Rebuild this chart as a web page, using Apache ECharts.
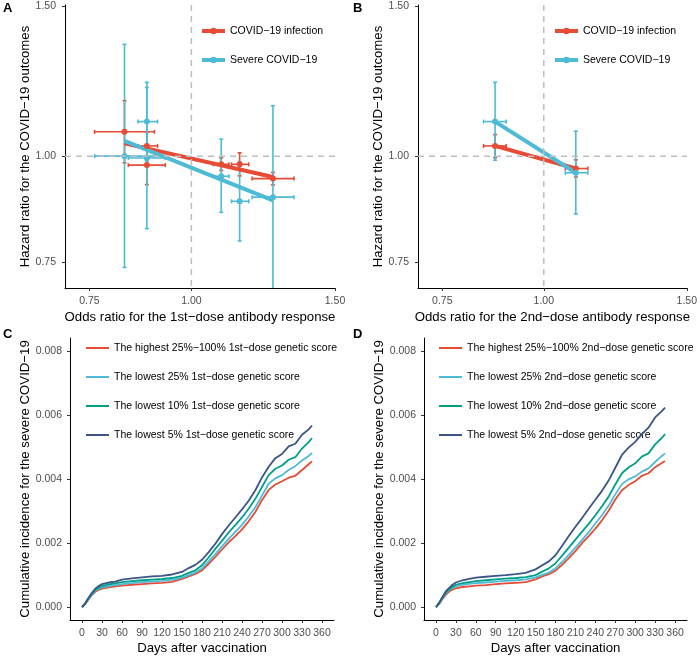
<!DOCTYPE html>
<html>
<head>
<meta charset="utf-8">
<script src="https://cdn.jsdelivr.net/npm/echarts@6/dist/echarts.min.js"></script>
<style>
html,body{margin:0;padding:0;background:#fff;}
#chart{width:700px;height:660px;}
</style>
</head>
<body>
<div id="chart"></div>
<script>
// ---------- Data ----------
const hrTicks = [0.75, 1.00, 1.50];
const dayTicks = [0, 30, 60, 90, 120, 150, 180, 210, 240, 270, 300, 330, 360];
const incTicks = [0, 0.002, 0.004, 0.006, 0.008];

// Panel A (1st-dose): instrument odds ratios with 95% CI
const snpA_or   = [0.828, 0.882, 0.882, 1.088, 1.146, 1.259];
const snpA_orLo = [0.761, 0.860, 0.837, 1.064, 1.120, 1.187];
const snpA_orHi = [0.901, 0.909, 0.929, 1.112, 1.176, 1.336];
const infA_hr = [1.068, 1.028, 0.976, 0.978, 0.978, 0.941];
const infA_lo = [0.982, 0.990, 0.926, 0.962, 0.948, 0.925];
const infA_hi = [1.162, 1.068, 1.030, 0.995, 1.009, 0.957];
const sevA_hr = [1.000, 1.098, 0.995, 0.947, 0.885, 0.895];
const sevA_lo = [0.740, 0.987, 0.822, 0.859, 0.795, 0.690];
const sevA_hi = [1.353, 1.221, 1.204, 1.047, 0.985, 1.146];
const fitA_or = [0.828, 1.259];
const fitA_inf = [1.035, 0.945];
const fitA_sev = [1.042, 0.887];

// Panel B (2nd-dose)
const snpB_or   = [0.871, 1.095];
const snpB_orLo = [0.843, 1.063];
const snpB_orHi = [0.899, 1.133];
const infB_hr = [1.028, 0.967];
const infB_lo = [0.996, 0.945];
const infB_hi = [1.060, 0.990];
const sevB_hr = [1.098, 0.956];
const sevB_lo = [0.989, 0.855];
const sevB_hi = [1.221, 1.070];
const fitB_or = [0.871, 1.095];
const fitB_inf = [1.028, 0.967];
const fitB_sev = [1.098, 0.956];

// Panels C & D: cumulative incidence curves
const days = [0,5,10,15,20,25,30,40,50,60,75,90,105,120,135,150,160,170,180,190,200,210,220,230,240,250,260,270,280,290,300,310,320,330,340,345];
const C_high = [0,0.0001,0.00025,0.00038,0.00048,0.00054,0.00058,0.00062,0.00065,0.00067,0.0007,0.00072,0.00074,0.00076,0.00079,0.00088,0.00096,0.00104,0.00115,0.00135,0.00157,0.0018,0.00202,0.00222,0.00243,0.00268,0.00297,0.00334,0.00366,0.00383,0.00393,0.00404,0.0041,0.00428,0.00446,0.00455];
const C_low25 = [0,0.00011,0.00026,0.0004,0.00051,0.00057,0.00062,0.00066,0.00069,0.00072,0.00075,0.00078,0.0008,0.00082,0.00085,0.00092,0.001,0.00108,0.00121,0.00143,0.00166,0.0019,0.00213,0.00235,0.00257,0.00283,0.00312,0.00348,0.00385,0.00402,0.00412,0.00428,0.0044,0.00458,0.00472,0.00481];
const C_low10 = [0,0.00012,0.00028,0.00042,0.00054,0.00061,0.00066,0.00071,0.00074,0.00078,0.00081,0.00084,0.00086,0.00088,0.00091,0.00098,0.00107,0.00115,0.00131,0.00155,0.00182,0.00207,0.00233,0.00256,0.0028,0.00307,0.00338,0.00375,0.00412,0.00432,0.00442,0.0046,0.00468,0.00495,0.00515,0.00528];
const C_low5 = [0,0.00013,0.0003,0.00045,0.00058,0.00066,0.00072,0.00077,0.0008,0.00086,0.0009,0.00093,0.00096,0.00098,0.00102,0.0011,0.00122,0.00132,0.00148,0.00172,0.00198,0.00228,0.00255,0.0028,0.00305,0.00332,0.00365,0.00405,0.00438,0.00465,0.00478,0.00502,0.0051,0.00538,0.00555,0.00567];
const D_high = [0,0.0001,0.00026,0.00039,0.00049,0.00055,0.00059,0.00063,0.00065,0.00067,0.00069,0.00072,0.00074,0.00076,0.00078,0.00087,0.00096,0.00103,0.00114,0.00132,0.00153,0.00175,0.002,0.00222,0.00245,0.00271,0.00301,0.00336,0.00365,0.00381,0.00393,0.0041,0.00418,0.00437,0.0045,0.00456];
const D_low25 = [0,0.00012,0.00028,0.00043,0.00053,0.0006,0.00065,0.0007,0.00073,0.00075,0.00077,0.0008,0.00082,0.00084,0.00087,0.00093,0.00101,0.00108,0.00121,0.00141,0.00163,0.00186,0.0021,0.00234,0.00261,0.00287,0.00317,0.00352,0.00384,0.00399,0.00408,0.00423,0.00433,0.00453,0.00472,0.0048];
const D_low10 = [0,0.00013,0.0003,0.00046,0.00056,0.00064,0.0007,0.00075,0.00078,0.00081,0.00084,0.00087,0.00089,0.00091,0.00094,0.001,0.00111,0.00121,0.00137,0.00161,0.00186,0.00211,0.00236,0.0026,0.00287,0.00315,0.00345,0.00383,0.00418,0.00436,0.00449,0.0047,0.0048,0.00508,0.00528,0.0054];
const D_low5 = [0,0.00015,0.00033,0.0005,0.0006,0.0007,0.00077,0.00084,0.00088,0.00092,0.00095,0.00098,0.001,0.00103,0.00107,0.00118,0.00131,0.00143,0.00162,0.00192,0.00222,0.00251,0.00278,0.00307,0.00335,0.00363,0.00395,0.00435,0.00475,0.00498,0.00516,0.0054,0.0056,0.00592,0.00612,0.00623];

const namesInf = 'COVID−19 infection';
const namesSev = 'Severe COVID−19';
const namesC = ['The highest 25%−100% 1st−dose genetic score','The lowest 25% 1st−dose genetic score','The lowest 10% 1st−dose genetic score','The lowest 5% 1st−dose genetic score'];
const namesD = ['The highest 25%−100% 2nd−dose genetic score','The lowest 25% 2nd−dose genetic score','The lowest 10% 2nd−dose genetic score','The lowest 5% 2nd−dose genetic score'];

// ---------- Styling ----------
const RED = '#E64B35', BLUE = '#4DBBD5', TEAL = '#00A087', NAVY = '#3C5488';
const FONT = "'Liberation Sans', Arial, Helvetica, sans-serif";
const LN = Math.log;

function errItems(or, orLo, orHi, hr, lo, hi) {
  return or.map((v, i) => [LN(v), LN(hr[i]), LN(orLo[i]), LN(orHi[i]), LN(lo[i]), LN(hi[i])]);
}
function errRender(params, api) {
  const cs = params.coordSys;
  const cy = v => Math.max(cs.y, Math.min(cs.y + cs.height, v));
  const x = api.value(0), y = api.value(1);
  const p0 = api.coord([api.value(2), y]), p1 = api.coord([api.value(3), y]);
  const q0 = api.coord([x, api.value(4)]), q1 = api.coord([x, api.value(5)]);
  const b0 = cy(q0[1]), b1 = cy(q1[1]);
  const c = 2;
  const st = {stroke: api.visual('color'), lineWidth: 1.6};
  const ln = (x1, y1, x2, y2) => ({type: 'line', shape: {x1, y1, x2, y2}, style: st});
  const ch = [
    ln(p0[0], p0[1], p1[0], p1[1]),
    ln(p0[0], p0[1] - c, p0[0], p0[1] + c),
    ln(p1[0], p1[1] - c, p1[0], p1[1] + c),
    ln(q0[0], b0, q1[0], b1)
  ];
  if (b0 === q0[1]) ch.push(ln(q0[0] - c, b0, q0[0] + c, b0));
  if (b1 === q1[1]) ch.push(ln(q1[0] - c, b1, q1[0] + c, b1));
  return {type: 'group', children: ch};
}
function refRender(params, api) {
  const cs = params.coordSys;
  const p = api.coord([0, 0]);
  const st = {stroke: '#BEBEBE', lineWidth: 1.5, lineDash: [6, 5]};
  return {type: 'group', children: [
    {type: 'line', shape: {x1: p[0], y1: cs.y, x2: p[0], y2: cs.y + cs.height}, style: st},
    {type: 'line', shape: {x1: cs.x, y1: p[1], x2: cs.x + cs.width, y2: p[1]}, style: st}
  ]};
}

const axisLineStyle = {show: true, onZero: false, lineStyle: {color: '#000', width: 1}};
const tickStyle = {show: true, length: 3, lineStyle: {color: '#333', width: 1}};
const labelBase = {color: '#4D4D4D', fontSize: 10.5, fontFamily: FONT};
const nameStyle = {color: '#000', fontSize: 13.2, fontFamily: FONT};

function hrAxis(idx, isX, name, gap) {
  return {
    type: 'value', gridIndex: idx,
    min: LN(0.70), max: isX ? LN(1.50) : LN(1.505),
    splitLine: {show: false},
    axisLine: axisLineStyle,
    axisTick: Object.assign({}, tickStyle, {customValues: hrTicks.map(LN)}),
    axisLabel: Object.assign({}, labelBase, {
      customValues: hrTicks.map(LN), margin: isX ? 8 : 9,
      formatter: v => Math.exp(v).toFixed(2)
    }),
    name: name, nameLocation: 'middle', nameGap: gap, nameTextStyle: nameStyle
  };
}
function dayAxis(idx) {
  return {
    type: 'value', gridIndex: idx, min: -18, max: 378,
    splitLine: {show: false}, axisLine: axisLineStyle,
    axisTick: Object.assign({}, tickStyle, {customValues: dayTicks}),
    axisLabel: Object.assign({}, labelBase, {customValues: dayTicks, margin: 8}),
    name: 'Days after vaccination', nameLocation: 'middle', nameGap: 22, nameTextStyle: nameStyle
  };
}
function incAxis(idx, gap) {
  return {
    type: 'value', gridIndex: idx, min: -0.0004, max: 0.0084,
    splitLine: {show: false}, axisLine: axisLineStyle,
    axisTick: Object.assign({}, tickStyle, {customValues: incTicks}),
    axisLabel: Object.assign({}, labelBase, {customValues: incTicks, margin: 8, formatter: v => v.toFixed(3)}),
    name: 'Cumulative incidence for the severe COVID−19', nameLocation: 'middle', nameGap: gap, nameTextStyle: nameStyle
  };
}

function mrSeries(gi, fitOr, fitInf, fitSev, snp, snpLo, snpHi, iHr, iLo, iHi, sHr, sLo, sHi) {
  const fitLine = (name, hr, color, z) => ({
    type: 'line', name, xAxisIndex: gi, yAxisIndex: gi, z,
    data: fitOr.map((v, i) => [LN(v), LN(hr[i])]),
    symbol: 'circle', symbolSize: 6, showSymbol: false,
    lineStyle: {color, width: 4}, itemStyle: {color}, silent: true, animation: false
  });
  const pts = (name, hr, color, z) => ({
    type: 'scatter', name, xAxisIndex: gi, yAxisIndex: gi, z,
    data: snp.map((v, i) => [LN(v), LN(hr[i])]),
    symbol: 'circle', symbolSize: 6, itemStyle: {color, opacity: 1}, silent: true, animation: false
  });
  const err = (name, hr, lo, hi, color, z) => ({
    type: 'custom', name, xAxisIndex: gi, yAxisIndex: gi, z,
    data: errItems(snp, snpLo, snpHi, hr, lo, hi),
    renderItem: errRender, itemStyle: {color}, silent: true, animation: false
  });
  return [
    fitLine(namesInf, fitInf, RED, 4),
    fitLine(namesSev, fitSev, BLUE, 5),
    err(namesInf, iHr, iLo, iHi, RED, 2),
    err(namesSev, sHr, sLo, sHi, BLUE, 3),
    pts(namesInf, iHr, RED, 6),
    pts(namesSev, sHr, BLUE, 7),
    {type: 'custom', xAxisIndex: gi, yAxisIndex: gi, z: 10, data: [[0, 0]], renderItem: refRender, silent: true, animation: false}
  ];
}
function curveSeries(gi, names, arrs) {
  const cols = [RED, BLUE, TEAL, NAVY];
  return arrs.map((a, k) => ({
    type: 'line', name: names[k], xAxisIndex: gi, yAxisIndex: gi,
    data: days.map((d, i) => [d, a[i]]), symbol: 'none', showSymbol: false,
    lineStyle: {color: cols[k], width: 1.8}, itemStyle: {color: cols[k]},
    silent: true, animation: false, z: 2 + k
  }));
}

const legendText = {fontSize: 10.5, fontFamily: FONT, color: '#000', lineHeight: 14};

const option = {
  animation: false,
  backgroundColor: '#fff',
  textStyle: {fontFamily: FONT},
  grid: [
    {left: 65, top: 5, width: 270, height: 283},
    {left: 418, top: 5, width: 271, height: 283},
    {left: 70, top: 338, width: 264, height: 282},
    {left: 424, top: 338, width: 263, height: 282}
  ],
  xAxis: [
    hrAxis(0, true, 'Odds ratio for the 1st−dose antibody response', 23),
    hrAxis(1, true, 'Odds ratio for the 2nd−dose antibody response', 23),
    dayAxis(2), dayAxis(3)
  ],
  yAxis: [
    hrAxis(0, false, 'Hazard ratio for the COVID−19 outcomes', 30),
    hrAxis(1, false, 'Hazard ratio for the COVID−19 outcomes', 30),
    incAxis(2, 35), incAxis(3, 37)
  ],
  legend: [
    {orient: 'vertical', left: 195, top: 19, itemWidth: 23, itemHeight: 8, itemGap: 15, data: [namesInf, namesSev], textStyle: legendText, lineStyle: {width: 4}, selectedMode: false},
    {orient: 'vertical', left: 548, top: 19, itemWidth: 23, itemHeight: 8, itemGap: 15, data: [namesInf, namesSev], textStyle: legendText, lineStyle: {width: 4}, selectedMode: false},
    {orient: 'vertical', left: 80, top: 336, itemWidth: 23, itemHeight: 14, itemGap: 15, data: namesC, textStyle: legendText, itemStyle: {opacity: 0}, lineStyle: {width: 2}, selectedMode: false},
    {orient: 'vertical', left: 433, top: 336, itemWidth: 23, itemHeight: 14, itemGap: 15, data: namesD, textStyle: legendText, itemStyle: {opacity: 0}, lineStyle: {width: 2}, selectedMode: false}
  ],
  graphic: [
    {type: 'text', left: 3, top: 2, style: {text: 'A', font: "bold 13px " + FONT, fill: '#000'}},
    {type: 'text', left: 353, top: 2, style: {text: 'B', font: "bold 13px " + FONT, fill: '#000'}},
    {type: 'text', left: 3, top: 328, style: {text: 'C', font: "bold 13px " + FONT, fill: '#000'}},
    {type: 'text', left: 353, top: 328, style: {text: 'D', font: "bold 13px " + FONT, fill: '#000'}}
  ],
  series: [].concat(
    mrSeries(0, fitA_or, fitA_inf, fitA_sev, snpA_or, snpA_orLo, snpA_orHi, infA_hr, infA_lo, infA_hi, sevA_hr, sevA_lo, sevA_hi),
    mrSeries(1, fitB_or, fitB_inf, fitB_sev, snpB_or, snpB_orLo, snpB_orHi, infB_hr, infB_lo, infB_hi, sevB_hr, sevB_lo, sevB_hi),
    curveSeries(2, namesC, [C_high, C_low25, C_low10, C_low5]),
    curveSeries(3, namesD, [D_high, D_low25, D_low10, D_low5])
  )
};

const chart = echarts.init(document.getElementById('chart'), null, {renderer: 'canvas'});
chart.setOption(option);
</script>
</body>
</html>
